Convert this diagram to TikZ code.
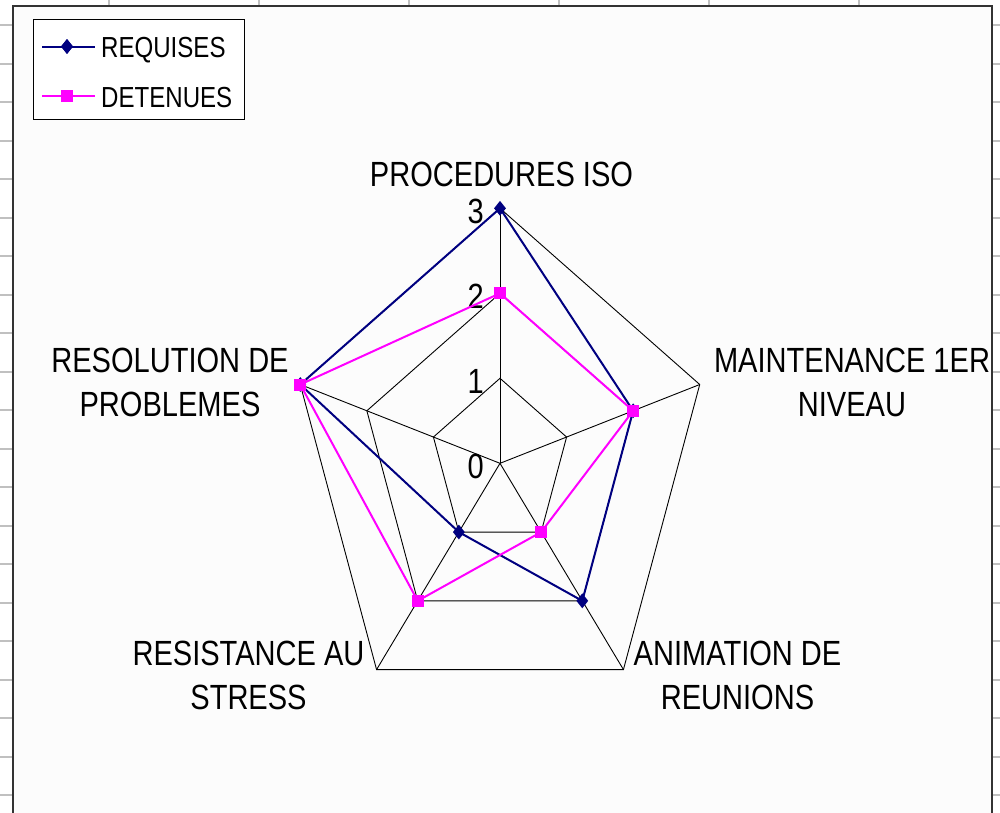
\documentclass[tikz,border=0pt]{standalone}
\usepackage{fontspec}
\setmainfont{Liberation Sans}[FakeStretch=0.83]
\usetikzlibrary{shapes.geometric}
\definecolor{reqblue}{HTML}{000080}
\definecolor{detpink}{HTML}{FF00FF}
\definecolor{tickgray}{HTML}{C0C0C0}
\definecolor{framegray}{HTML}{333333}

\begin{document}
\begin{tikzpicture}[x=1pt, y=-1pt,
    catlabel/.style={font=\fontsize{35}{44}\selectfont, inner sep=0pt, align=center},
    legtext/.style={font=\fontsize{29}{34}\selectfont, inner sep=0pt, anchor=base west},
    radargrid/.style={black, line width=0.9pt},
    req/.style={reqblue, line width=2pt},
    det/.style={detpink, line width=2pt},
    reqmark/.style={diamond, fill=reqblue, inner sep=0pt, minimum width=12pt, minimum height=15pt},
    detmark/.style={rectangle, fill=detpink, inner sep=0pt, minimum size=12pt},
    ]
\clip (0,0) rectangle (1000,812);
\fill[white] (0,0) rectangle (1000,812);
\foreach \i in {0,...,20}
    \draw[tickgray, line width=2pt] (0,25+38.5*\i) -- (13,25+38.5*\i) (991,25+38.5*\i) -- (1000,25+38.5*\i);
\foreach \i in {0,...,5}
    \draw[tickgray, line width=2pt] (109+150*\i,0) -- (109+150*\i,6);
\draw[framegray, line width=2pt, fill=white!99!black] (12.7,830) -- (12.7,6) -- (991.7,6) -- (991.7,830);

\begin{scope}[shift={(500,463.3)}, x=70pt, y=85pt]
    \foreach \r in {1,2,3}
        \draw[radargrid] (90:\r) -- (18:\r) -- (-54:\r) -- (-126:\r) -- (162:\r) -- cycle;
    \foreach \a in {90,18,-54,-126,162}
        \draw[radargrid] (0,0) -- (\a:3);
    \foreach \v in {0,...,3}
        \node[catlabel, anchor=east] (tick-\v) at (-0.23,\v-0.04) {\v};

    \foreach \a/\v [count=\i] in {90/3,18/2,-54/2,-126/1,162/3}
        \coordinate (req-\i) at (\a:\v);
    \foreach \a/\v [count=\i] in {90/2,18/2,-54/1,-126/2,162/3}
        \coordinate (det-\i) at (\a:\v);

    \draw[req] (req-1) -- (req-2) -- (req-3) -- (req-4) -- (req-5) -- cycle;
    \foreach \i in {1,...,5}
        \node[reqmark] (reqm-\i) at (req-\i) {};
    \draw[det] (det-1) -- (det-2) -- (det-3) -- (det-4) -- (det-5) -- cycle;
    \foreach \i in {1,...,5}
        \node[detmark] (detm-\i) at (det-\i) {};
\end{scope}

\node[catlabel, anchor=base] (cat-1) at (501.5,186) {PROCEDURES ISO};
\node[catlabel] (cat-2) at (852,382.5) {MAINTENANCE 1ER\\NIVEAU};
\node[catlabel] (cat-3) at (737.5,675) {ANIMATION DE\\REUNIONS};
\node[catlabel] (cat-4) at (248.5,675) {RESISTANCE AU\\STRESS};
\node[catlabel] (cat-5) at (170,382.5) {RESOLUTION DE\\PROBLEMES};

\node[draw=black, line width=0.8pt, fill=white, minimum width=211pt, minimum height=100pt,
    anchor=north west, inner sep=0pt] (legend) at (33,19) {};
\node[reqmark] (legm-req) at (67,46.5) {};
\draw[req] ([xshift=-25pt]legm-req.center) -- ([xshift=28pt]legm-req.center);
\node[reqmark] at (legm-req) {};
\node[legtext] (leg-req) at (101,57) {REQUISES};
\node[detmark] (legm-det) at (67,96) {};
\draw[det] ([xshift=-25pt]legm-det.center) -- ([xshift=28pt]legm-det.center);
\node[detmark] at (legm-det) {};
\node[legtext] (leg-det) at (101,107) {DETENUES};
\end{tikzpicture}
\end{document}
